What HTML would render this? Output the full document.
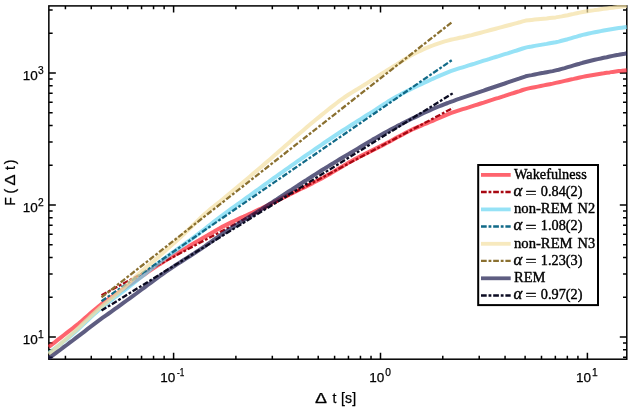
<!DOCTYPE html>
<html lang="en"><head><meta charset="utf-8"><title>F(Δt) fluctuation functions</title>
<style>html,body{margin:0;padding:0;background:#fff}svg{display:block}</style></head>
<body>
<svg width="632" height="410" viewBox="0 0 632 410">
<rect width="632" height="410" fill="#fff"/>
<defs><clipPath id="c"><rect x="48.050000000000004" y="5.1000000000000005" width="579.55" height="354.90000000000003"/></clipPath></defs>
<path d="M65.42,359.2 v-3.4 M65.42,5.9 v3.4 M91.27,359.2 v-3.4 M91.27,5.9 v3.4 M111.32,359.2 v-3.4 M111.32,5.9 v3.4 M127.70,359.2 v-3.4 M127.70,5.9 v3.4 M141.55,359.2 v-3.4 M141.55,5.9 v3.4 M153.55,359.2 v-3.4 M153.55,5.9 v3.4 M164.13,359.2 v-3.4 M164.13,5.9 v3.4 M173.60,359.2 v-6.5 M173.60,5.9 v6.5 M235.88,359.2 v-3.4 M235.88,5.9 v3.4 M272.32,359.2 v-3.4 M272.32,5.9 v3.4 M298.17,359.2 v-3.4 M298.17,5.9 v3.4 M318.22,359.2 v-3.4 M318.22,5.9 v3.4 M334.60,359.2 v-3.4 M334.60,5.9 v3.4 M348.45,359.2 v-3.4 M348.45,5.9 v3.4 M360.45,359.2 v-3.4 M360.45,5.9 v3.4 M371.03,359.2 v-3.4 M371.03,5.9 v3.4 M380.50,359.2 v-6.5 M380.50,5.9 v6.5 M442.78,359.2 v-3.4 M442.78,5.9 v3.4 M479.22,359.2 v-3.4 M479.22,5.9 v3.4 M505.07,359.2 v-3.4 M505.07,5.9 v3.4 M525.12,359.2 v-3.4 M525.12,5.9 v3.4 M541.50,359.2 v-3.4 M541.50,5.9 v3.4 M555.35,359.2 v-3.4 M555.35,5.9 v3.4 M567.35,359.2 v-3.4 M567.35,5.9 v3.4 M577.93,359.2 v-3.4 M577.93,5.9 v3.4 M587.40,359.2 v-6.5 M587.40,5.9 v6.5 M48.85,357.35 h3.8 M626.8,357.35 h-3.8 M48.85,349.69 h3.8 M626.8,349.69 h-3.8 M48.85,342.94 h3.8 M626.8,342.94 h-3.8 M48.85,336.90 h7.0 M626.8,336.90 h-7.0 M48.85,297.16 h3.8 M626.8,297.16 h-3.8 M48.85,273.92 h3.8 M626.8,273.92 h-3.8 M48.85,257.43 h3.8 M626.8,257.43 h-3.8 M48.85,244.64 h3.8 M626.8,244.64 h-3.8 M48.85,234.18 h3.8 M626.8,234.18 h-3.8 M48.85,225.35 h3.8 M626.8,225.35 h-3.8 M48.85,217.69 h3.8 M626.8,217.69 h-3.8 M48.85,210.94 h3.8 M626.8,210.94 h-3.8 M48.85,204.90 h7.0 M626.8,204.90 h-7.0 M48.85,165.16 h3.8 M626.8,165.16 h-3.8 M48.85,141.92 h3.8 M626.8,141.92 h-3.8 M48.85,125.43 h3.8 M626.8,125.43 h-3.8 M48.85,112.64 h3.8 M626.8,112.64 h-3.8 M48.85,102.18 h3.8 M626.8,102.18 h-3.8 M48.85,93.35 h3.8 M626.8,93.35 h-3.8 M48.85,85.69 h3.8 M626.8,85.69 h-3.8 M48.85,78.94 h3.8 M626.8,78.94 h-3.8 M48.85,72.90 h7.0 M626.8,72.90 h-7.0 M48.85,33.16 h3.8 M626.8,33.16 h-3.8 M48.85,9.92 h3.8 M626.8,9.92 h-3.8" stroke="#000" stroke-width="1.5" fill="none"/>
<rect x="48.85" y="5.9" width="577.9499999999999" height="353.3" fill="none" stroke="#000" stroke-width="1.5"/>
<g clip-path="url(#c)" fill="none">
<path d="M48.7,347.0 L51.7,344.6 L54.7,342.3 L57.7,339.9 L60.7,337.6 L63.7,335.2 L66.7,332.9 L69.7,330.6 L72.7,328.3 L75.7,325.9 L78.7,323.5 L81.7,320.9 L84.7,318.3 L87.7,315.7 L90.7,313.1 L93.7,310.5 L96.7,308.0 L99.7,305.5 L102.7,303.2 L105.7,301.0 L108.7,298.9 L111.7,296.8 L114.7,294.8 L117.7,292.8 L120.7,290.8 L123.7,288.8 L126.7,286.7 L129.7,284.7 L132.7,282.6 L135.7,280.6 L138.7,278.5 L141.7,276.4 L144.7,274.3 L147.7,272.2 L150.7,270.2 L153.7,268.2 L156.7,266.2 L159.7,264.2 L162.7,262.3 L165.7,260.4 L168.7,258.5 L171.7,256.7 L174.7,254.9 L177.7,253.1 L180.7,251.3 L183.7,249.5 L186.7,247.6 L189.7,245.8 L192.7,244.0 L195.7,242.2 L198.7,240.5 L201.7,238.7 L204.7,236.9 L207.7,235.2 L210.7,233.4 L213.7,231.7 L216.7,229.9 L219.7,228.3 L222.7,226.6 L225.7,225.1 L228.7,223.6 L231.7,222.1 L234.7,220.7 L237.7,219.3 L240.7,217.9 L243.7,216.6 L246.7,215.2 L249.7,213.8 L252.7,212.5 L255.7,211.0 L258.7,209.6 L261.7,208.2 L264.7,206.7 L267.7,205.3 L270.7,203.8 L273.7,202.3 L276.7,200.9 L279.7,199.4 L282.7,197.9 L285.7,196.4 L288.7,194.9 L291.7,193.5 L294.7,192.0 L297.7,190.5 L300.7,189.0 L303.7,187.6 L306.7,186.1 L309.7,184.6 L312.7,183.1 L315.7,181.5 L318.7,180.0 L321.7,178.4 L324.7,176.8 L327.7,175.1 L330.7,173.4 L333.7,171.6 L336.7,169.8 L339.7,168.0 L342.7,166.2 L345.7,164.4 L348.7,162.6 L351.7,160.9 L354.7,159.3 L357.7,157.7 L360.7,156.1 L363.7,154.6 L366.7,153.1 L369.7,151.6 L372.7,150.1 L375.7,148.6 L378.7,147.1 L381.7,145.6 L384.7,144.1 L387.7,142.5 L390.7,140.9 L393.7,139.3 L396.7,137.6 L399.7,136.0 L402.7,134.4 L405.7,132.8 L408.7,131.3 L411.7,129.8 L414.7,128.4 L417.7,127.1 L420.7,125.8 L423.7,124.5 L426.7,123.3 L429.7,122.0 L432.7,120.8 L435.7,119.5 L438.7,118.2 L441.7,116.9 L444.7,115.6 L447.7,114.4 L450.7,113.2 L453.7,112.2 L456.7,111.2 L459.7,110.2 L462.7,109.2 L465.7,108.3 L468.7,107.4 L471.7,106.4 L474.7,105.4 L477.7,104.5 L480.7,103.5 L483.7,102.6 L486.7,101.6 L489.7,100.6 L492.7,99.7 L495.7,98.7 L498.7,97.8 L501.7,96.8 L504.7,95.9 L507.7,94.9 L510.7,93.9 L513.7,93.0 L516.7,92.0 L519.7,91.1 L522.7,90.0 L525.7,89.1 L528.7,88.4 L531.7,87.8 L534.7,87.2 L537.7,86.6 L540.7,86.0 L543.7,85.4 L546.7,84.8 L549.7,84.2 L552.7,83.6 L555.7,82.9 L558.7,82.3 L561.7,81.6 L564.7,80.9 L567.7,80.2 L570.7,79.5 L573.7,78.9 L576.7,78.2 L579.7,77.5 L582.7,76.9 L585.7,76.3 L588.7,75.7 L591.7,75.2 L594.7,74.7 L597.7,74.2 L600.7,73.7 L603.7,73.3 L606.7,72.8 L609.7,72.4 L612.7,71.9 L615.7,71.5 L618.7,71.1 L621.7,70.8 L624.7,70.4 L626.8,70.2" stroke="#fe2230" stroke-opacity="0.7" stroke-width="4.0" stroke-linejoin="round"/>
<path d="M101.5,295.2 L452.8,108.0" stroke="#a80812" stroke-width="2.3" stroke-dasharray="5.7 1.85 2.8 1.85"/>
<path d="M48.7,353.0 L51.7,350.8 L54.7,348.5 L57.7,346.3 L60.7,343.9 L63.7,341.5 L66.7,339.1 L69.7,336.6 L72.7,334.1 L75.7,331.4 L78.7,328.7 L81.7,325.9 L84.7,323.0 L87.7,320.2 L90.7,317.4 L93.7,314.6 L96.7,311.9 L99.7,309.3 L102.7,306.8 L105.7,304.4 L108.7,302.1 L111.7,299.8 L114.7,297.5 L117.7,295.3 L120.7,293.1 L123.7,290.8 L126.7,288.6 L129.7,286.2 L132.7,283.9 L135.7,281.5 L138.7,279.0 L141.7,276.6 L144.7,274.1 L147.7,271.7 L150.7,269.2 L153.7,266.8 L156.7,264.5 L159.7,262.1 L162.7,259.9 L165.7,257.6 L168.7,255.4 L171.7,253.2 L174.7,251.1 L177.7,248.9 L180.7,246.8 L183.7,244.6 L186.7,242.5 L189.7,240.3 L192.7,238.1 L195.7,235.9 L198.7,233.6 L201.7,231.3 L204.7,229.0 L207.7,226.6 L210.7,224.3 L213.7,221.9 L216.7,219.6 L219.7,217.3 L222.7,215.0 L225.7,212.8 L228.7,210.6 L231.7,208.4 L234.7,206.3 L237.7,204.2 L240.7,202.0 L243.7,199.9 L246.7,197.7 L249.7,195.6 L252.7,193.4 L255.7,191.2 L258.7,189.1 L261.7,186.9 L264.7,184.7 L267.7,182.5 L270.7,180.4 L273.7,178.2 L276.7,176.1 L279.7,173.9 L282.7,171.8 L285.7,169.7 L288.7,167.6 L291.7,165.4 L294.7,163.3 L297.7,161.2 L300.7,159.1 L303.7,157.0 L306.7,154.9 L309.7,152.9 L312.7,150.8 L315.7,148.7 L318.7,146.6 L321.7,144.6 L324.7,142.5 L327.7,140.5 L330.7,138.5 L333.7,136.5 L336.7,134.5 L339.7,132.5 L342.7,130.5 L345.7,128.6 L348.7,126.7 L351.7,124.8 L354.7,122.9 L357.7,121.0 L360.7,119.1 L363.7,117.2 L366.7,115.3 L369.7,113.5 L372.7,111.6 L375.7,109.7 L378.7,107.7 L381.7,105.7 L384.7,103.8 L387.7,101.8 L390.7,100.0 L393.7,98.2 L396.7,96.5 L399.7,94.9 L402.7,93.3 L405.7,91.7 L408.7,90.2 L411.7,88.7 L414.7,87.3 L417.7,85.8 L420.7,84.4 L423.7,82.9 L426.7,81.6 L429.7,80.2 L432.7,78.8 L435.7,77.5 L438.7,76.1 L441.7,74.8 L444.7,73.6 L447.7,72.4 L450.7,71.2 L453.7,70.2 L456.7,69.2 L459.7,68.2 L462.7,67.3 L465.7,66.4 L468.7,65.4 L471.7,64.5 L474.7,63.6 L477.7,62.6 L480.7,61.7 L483.7,60.7 L486.7,59.8 L489.7,58.9 L492.7,57.9 L495.7,57.0 L498.7,56.1 L501.7,55.1 L504.7,54.2 L507.7,53.3 L510.7,52.3 L513.7,51.4 L516.7,50.5 L519.7,49.5 L522.7,48.5 L525.7,47.6 L528.7,46.9 L531.7,46.5 L534.7,45.9 L537.7,45.4 L540.7,44.9 L543.7,44.4 L546.7,43.9 L549.7,43.3 L552.7,42.8 L555.7,42.3 L558.7,41.6 L561.7,40.8 L564.7,40.0 L567.7,39.2 L570.7,38.3 L573.7,37.4 L576.7,36.6 L579.7,35.7 L582.7,34.9 L585.7,34.2 L588.7,33.5 L591.7,32.9 L594.7,32.3 L597.7,31.7 L600.7,31.1 L603.7,30.5 L606.7,30.0 L609.7,29.5 L612.7,29.0 L615.7,28.5 L618.7,28.1 L621.7,27.7 L624.7,27.3 L626.8,27.0" stroke="#69d6f2" stroke-opacity="0.7" stroke-width="4.0" stroke-linejoin="round"/>
<path d="M101.5,301.2 L452.8,59.5" stroke="#116a88" stroke-width="2.3" stroke-dasharray="5.7 1.85 2.8 1.85"/>
<path d="M48.7,354.0 L51.7,351.5 L54.7,348.9 L57.7,346.3 L60.7,343.7 L63.7,341.1 L66.7,338.5 L69.7,335.8 L72.7,333.1 L75.7,330.4 L78.7,327.6 L81.7,324.7 L84.7,321.9 L87.7,319.1 L90.7,316.3 L93.7,313.5 L96.7,310.8 L99.7,308.1 L102.7,305.5 L105.7,303.0 L108.7,300.5 L111.7,298.1 L114.7,295.7 L117.7,293.2 L120.7,290.6 L123.7,287.9 L126.7,285.1 L129.7,282.3 L132.7,279.5 L135.7,276.7 L138.7,274.0 L141.7,271.3 L144.7,268.7 L147.7,266.1 L150.7,263.5 L153.7,261.0 L156.7,258.4 L159.7,255.8 L162.7,253.1 L165.7,250.5 L168.7,247.8 L171.7,245.1 L174.7,242.4 L177.7,239.7 L180.7,237.0 L183.7,234.2 L186.7,231.4 L189.7,228.5 L192.7,225.5 L195.7,222.6 L198.7,219.6 L201.7,216.8 L204.7,214.0 L207.7,211.4 L210.7,208.9 L213.7,206.5 L216.7,204.1 L219.7,201.7 L222.7,199.3 L225.7,196.8 L228.7,194.3 L231.7,191.8 L234.7,189.3 L237.7,186.8 L240.7,184.3 L243.7,181.7 L246.7,179.2 L249.7,176.7 L252.7,174.1 L255.7,171.6 L258.7,169.0 L261.7,166.4 L264.7,163.9 L267.7,161.3 L270.7,158.7 L273.7,156.1 L276.7,153.4 L279.7,150.8 L282.7,148.2 L285.7,145.5 L288.7,142.9 L291.7,140.3 L294.7,137.6 L297.7,135.0 L300.7,132.5 L303.7,129.9 L306.7,127.3 L309.7,124.8 L312.7,122.3 L315.7,119.8 L318.7,117.4 L321.7,114.9 L324.7,112.5 L327.7,110.0 L330.7,107.6 L333.7,105.3 L336.7,103.0 L339.7,100.7 L342.7,98.6 L345.7,96.5 L348.7,94.5 L351.7,92.6 L354.7,90.8 L357.7,89.0 L360.7,87.1 L363.7,85.3 L366.7,83.4 L369.7,81.5 L372.7,79.5 L375.7,77.6 L378.7,75.7 L381.7,73.8 L384.7,71.9 L387.7,70.0 L390.7,68.1 L393.7,66.2 L396.7,64.4 L399.7,62.4 L402.7,60.5 L405.7,58.7 L408.7,56.9 L411.7,55.1 L414.7,53.5 L417.7,52.0 L420.7,50.6 L423.7,49.2 L426.7,47.9 L429.7,46.7 L432.7,45.5 L435.7,44.3 L438.7,43.3 L441.7,42.3 L444.7,41.4 L447.7,40.6 L450.7,39.8 L453.7,39.1 L456.7,38.5 L459.7,37.8 L462.7,37.2 L465.7,36.5 L468.7,35.8 L471.7,35.1 L474.7,34.3 L477.7,33.5 L480.7,32.7 L483.7,31.9 L486.7,31.1 L489.7,30.3 L492.7,29.5 L495.7,28.7 L498.7,27.9 L501.7,27.1 L504.7,26.3 L507.7,25.5 L510.7,24.7 L513.7,23.9 L516.7,23.1 L519.7,22.3 L522.7,21.4 L525.7,20.6 L528.7,20.2 L531.7,19.9 L534.7,19.6 L537.7,19.3 L540.7,19.0 L543.7,18.7 L546.7,18.4 L549.7,18.0 L552.7,17.7 L555.7,17.4 L558.7,16.9 L561.7,16.4 L564.7,15.8 L567.7,15.2 L570.7,14.5 L573.7,13.9 L576.7,13.2 L579.7,12.6 L582.7,12.0 L585.7,11.5 L588.7,11.0 L591.7,10.6 L594.7,10.1 L597.7,9.7 L600.7,9.2 L603.7,8.8 L606.7,8.4 L609.7,8.0 L612.7,7.7 L615.7,7.3 L618.7,6.9 L621.7,6.6 L624.7,6.3 L626.8,6.1" stroke="#f4e0a2" stroke-opacity="0.7" stroke-width="4.0" stroke-linejoin="round"/>
<path d="M101.5,297.4 L452.8,21.5" stroke="#8a7030" stroke-width="2.3" stroke-dasharray="5.7 1.85 2.8 1.85"/>
<path d="M48.7,358.3 L51.7,356.1 L54.7,353.9 L57.7,351.7 L60.7,349.5 L63.7,347.2 L66.7,345.0 L69.7,342.7 L72.7,340.5 L75.7,338.2 L78.7,335.9 L81.7,333.6 L84.7,331.3 L87.7,328.9 L90.7,326.6 L93.7,324.3 L96.7,322.1 L99.7,319.9 L102.7,317.7 L105.7,315.6 L108.7,313.5 L111.7,311.4 L114.7,309.2 L117.7,307.1 L120.7,304.9 L123.7,302.7 L126.7,300.5 L129.7,298.4 L132.7,296.2 L135.7,294.0 L138.7,291.7 L141.7,289.5 L144.7,287.3 L147.7,285.0 L150.7,282.8 L153.7,280.6 L156.7,278.4 L159.7,276.2 L162.7,274.1 L165.7,271.9 L168.7,269.9 L171.7,267.8 L174.7,265.8 L177.7,263.9 L180.7,262.0 L183.7,260.0 L186.7,258.1 L189.7,256.2 L192.7,254.3 L195.7,252.3 L198.7,250.4 L201.7,248.3 L204.7,246.3 L207.7,244.2 L210.7,242.1 L213.7,239.9 L216.7,237.8 L219.7,235.7 L222.7,233.7 L225.7,231.7 L228.7,229.8 L231.7,227.8 L234.7,226.0 L237.7,224.1 L240.7,222.2 L243.7,220.4 L246.7,218.5 L249.7,216.7 L252.7,214.8 L255.7,212.9 L258.7,211.0 L261.7,209.1 L264.7,207.1 L267.7,205.2 L270.7,203.3 L273.7,201.3 L276.7,199.4 L279.7,197.4 L282.7,195.4 L285.7,193.5 L288.7,191.5 L291.7,189.6 L294.7,187.6 L297.7,185.7 L300.7,183.7 L303.7,181.8 L306.7,179.9 L309.7,177.9 L312.7,176.0 L315.7,174.1 L318.7,172.2 L321.7,170.3 L324.7,168.5 L327.7,166.6 L330.7,164.8 L333.7,163.0 L336.7,161.1 L339.7,159.3 L342.7,157.5 L345.7,155.7 L348.7,154.0 L351.7,152.2 L354.7,150.4 L357.7,148.6 L360.7,146.8 L363.7,145.0 L366.7,143.2 L369.7,141.4 L372.7,139.6 L375.7,137.9 L378.7,136.2 L381.7,134.5 L384.7,132.8 L387.7,131.2 L390.7,129.6 L393.7,128.0 L396.7,126.4 L399.7,124.9 L402.7,123.3 L405.7,121.8 L408.7,120.3 L411.7,118.8 L414.7,117.4 L417.7,115.9 L420.7,114.4 L423.7,113.0 L426.7,111.6 L429.7,110.3 L432.7,109.0 L435.7,107.7 L438.7,106.5 L441.7,105.3 L444.7,104.1 L447.7,103.0 L450.7,101.8 L453.7,100.8 L456.7,99.7 L459.7,98.7 L462.7,97.6 L465.7,96.6 L468.7,95.6 L471.7,94.6 L474.7,93.6 L477.7,92.6 L480.7,91.6 L483.7,90.6 L486.7,89.5 L489.7,88.5 L492.7,87.5 L495.7,86.5 L498.7,85.5 L501.7,84.5 L504.7,83.5 L507.7,82.4 L510.7,81.4 L513.7,80.4 L516.7,79.4 L519.7,78.4 L522.7,77.3 L525.7,76.3 L528.7,75.6 L531.7,75.1 L534.7,74.5 L537.7,73.9 L540.7,73.3 L543.7,72.8 L546.7,72.2 L549.7,71.6 L552.7,71.1 L555.7,70.4 L558.7,69.7 L561.7,68.9 L564.7,68.1 L567.7,67.2 L570.7,66.3 L573.7,65.4 L576.7,64.5 L579.7,63.7 L582.7,62.8 L585.7,62.0 L588.7,61.2 L591.7,60.5 L594.7,59.8 L597.7,59.1 L600.7,58.5 L603.7,57.8 L606.7,57.2 L609.7,56.5 L612.7,55.9 L615.7,55.3 L618.7,54.8 L621.7,54.2 L624.7,53.7 L626.8,53.3" stroke="#19184c" stroke-opacity="0.7" stroke-width="4.0" stroke-linejoin="round"/>
<path d="M101.5,310.6 L452.8,93.3" stroke="#0b0b22" stroke-width="2.3" stroke-dasharray="5.7 1.85 2.8 1.85"/>
</g>
<text x="160.2" y="382.0" font-family="Liberation Sans, Arial, Helvetica, sans-serif" stroke="#000" stroke-width="0.25" font-size="13.5">10</text>
<text x="176.9" y="375.7" font-family="Liberation Sans, Arial, Helvetica, sans-serif" stroke="#000" stroke-width="0.25" font-size="10.2" textLength="7.3" lengthAdjust="spacingAndGlyphs">-1</text>
<text x="369.2" y="382.0" font-family="Liberation Sans, Arial, Helvetica, sans-serif" stroke="#000" stroke-width="0.25" font-size="13.5">10</text>
<text x="385.2" y="375.7" font-family="Liberation Sans, Arial, Helvetica, sans-serif" stroke="#000" stroke-width="0.25" font-size="10.2">0</text>
<text x="575.9" y="382.0" font-family="Liberation Sans, Arial, Helvetica, sans-serif" stroke="#000" stroke-width="0.25" font-size="13.5">10</text>
<text x="591.9" y="375.7" font-family="Liberation Sans, Arial, Helvetica, sans-serif" stroke="#000" stroke-width="0.25" font-size="10.2">1</text>
<text x="22.7" y="80.2" font-family="Liberation Sans, Arial, Helvetica, sans-serif" stroke="#000" stroke-width="0.25" font-size="13.5">10</text>
<text x="37.9" y="73.6" font-family="Liberation Sans, Arial, Helvetica, sans-serif" stroke="#000" stroke-width="0.25" font-size="10.2">3</text>
<text x="22.7" y="212.2" font-family="Liberation Sans, Arial, Helvetica, sans-serif" stroke="#000" stroke-width="0.25" font-size="13.5">10</text>
<text x="37.9" y="205.6" font-family="Liberation Sans, Arial, Helvetica, sans-serif" stroke="#000" stroke-width="0.25" font-size="10.2">2</text>
<text x="22.7" y="344.2" font-family="Liberation Sans, Arial, Helvetica, sans-serif" stroke="#000" stroke-width="0.25" font-size="13.5">10</text>
<text x="37.9" y="337.6" font-family="Liberation Sans, Arial, Helvetica, sans-serif" stroke="#000" stroke-width="0.25" font-size="10.2">1</text>
<text x="315.1" y="402.6" font-family="Liberation Sans, Arial, Helvetica, sans-serif" stroke="#000" stroke-width="0.25" font-size="14.0" textLength="12.0" lengthAdjust="spacingAndGlyphs">Δ</text>
<text x="332.4" y="402.6" font-family="Liberation Sans, Arial, Helvetica, sans-serif" stroke="#000" stroke-width="0.25" font-size="14.0">t</text>
<text x="340.9" y="402.6" font-family="Liberation Sans, Arial, Helvetica, sans-serif" stroke="#000" stroke-width="0.25" font-size="14.0" textLength="15.3" lengthAdjust="spacing">[s]</text>
<g transform="translate(15.1,205) rotate(-90)" font-family="Liberation Sans, Arial, Helvetica, sans-serif" stroke="#000" stroke-width="0.25" font-size="14.0">
<text x="-0.7" y="0">F</text><text x="11.4" y="0">(</text>
<text x="19.4" y="0" textLength="11.0" lengthAdjust="spacingAndGlyphs">Δ</text>
<text x="34.9" y="0">t</text><text x="40.8" y="0">)</text></g>
<rect x="478.2" y="165.0" width="119.8" height="140.1" fill="#fff" stroke="#000" stroke-width="2"/>
<path d="M481,174.9 H510.7" stroke="#fe2230" stroke-opacity="0.7" stroke-width="3.8" fill="none"/>
<path d="M481,192.0 H510.7" stroke="#a80812" stroke-width="2.3" stroke-dasharray="5.7 1.85 2.8 1.85" fill="none"/>
<text x="514" y="179.0" font-family="Liberation Serif, Times New Roman, serif" stroke="#000" stroke-width="0.4" font-size="14.6" textLength="72.7" lengthAdjust="spacingAndGlyphs">Wakefulness</text>
<text x="513.4" y="196.2" font-family="Liberation Serif, Times New Roman, serif" stroke="#000" stroke-width="0.4" font-size="16" font-style="italic" textLength="8.8" lengthAdjust="spacingAndGlyphs">α</text>
<text x="525.6" y="197.6" font-family="Liberation Serif, Times New Roman, serif" stroke="#000" stroke-width="0.4" font-size="14.6" textLength="11" lengthAdjust="spacingAndGlyphs">=</text>
<text x="540.8" y="196.2" font-family="Liberation Serif, Times New Roman, serif" stroke="#000" stroke-width="0.4" font-size="14.6" textLength="41.6" lengthAdjust="spacingAndGlyphs">0.84(2)</text>
<path d="M481,209.4 H510.7" stroke="#69d6f2" stroke-opacity="0.7" stroke-width="3.8" fill="none"/>
<path d="M481,226.5 H510.7" stroke="#116a88" stroke-width="2.3" stroke-dasharray="5.7 1.85 2.8 1.85" fill="none"/>
<text x="514" y="213.3" font-family="Liberation Serif, Times New Roman, serif" stroke="#000" stroke-width="0.4" font-size="14.6" textLength="58.6" lengthAdjust="spacingAndGlyphs">non-REM</text>
<text x="577.6" y="213.3" font-family="Liberation Serif, Times New Roman, serif" stroke="#000" stroke-width="0.4" font-size="14.6" textLength="17.6" lengthAdjust="spacingAndGlyphs">N2</text>
<text x="513.4" y="230.4" font-family="Liberation Serif, Times New Roman, serif" stroke="#000" stroke-width="0.4" font-size="16" font-style="italic" textLength="8.8" lengthAdjust="spacingAndGlyphs">α</text>
<text x="525.6" y="231.8" font-family="Liberation Serif, Times New Roman, serif" stroke="#000" stroke-width="0.4" font-size="14.6" textLength="11" lengthAdjust="spacingAndGlyphs">=</text>
<text x="540.8" y="230.4" font-family="Liberation Serif, Times New Roman, serif" stroke="#000" stroke-width="0.4" font-size="14.6" textLength="41.6" lengthAdjust="spacingAndGlyphs">1.08(2)</text>
<path d="M481,243.8 H510.7" stroke="#f4e0a2" stroke-opacity="0.7" stroke-width="3.8" fill="none"/>
<path d="M481,260.8 H510.7" stroke="#8a7030" stroke-width="2.3" stroke-dasharray="5.7 1.85 2.8 1.85" fill="none"/>
<text x="514" y="247.5" font-family="Liberation Serif, Times New Roman, serif" stroke="#000" stroke-width="0.4" font-size="14.6" textLength="58.6" lengthAdjust="spacingAndGlyphs">non-REM</text>
<text x="577.6" y="247.5" font-family="Liberation Serif, Times New Roman, serif" stroke="#000" stroke-width="0.4" font-size="14.6" textLength="17.6" lengthAdjust="spacingAndGlyphs">N3</text>
<text x="513.4" y="264.6" font-family="Liberation Serif, Times New Roman, serif" stroke="#000" stroke-width="0.4" font-size="16" font-style="italic" textLength="8.8" lengthAdjust="spacingAndGlyphs">α</text>
<text x="525.6" y="266.0" font-family="Liberation Serif, Times New Roman, serif" stroke="#000" stroke-width="0.4" font-size="14.6" textLength="11" lengthAdjust="spacingAndGlyphs">=</text>
<text x="540.8" y="264.6" font-family="Liberation Serif, Times New Roman, serif" stroke="#000" stroke-width="0.4" font-size="14.6" textLength="41.6" lengthAdjust="spacingAndGlyphs">1.23(3)</text>
<path d="M481,278.3 H510.7" stroke="#19184c" stroke-opacity="0.7" stroke-width="3.8" fill="none"/>
<path d="M481,295.5 H510.7" stroke="#0b0b22" stroke-width="2.3" stroke-dasharray="5.7 1.85 2.8 1.85" fill="none"/>
<text x="514" y="281.9" font-family="Liberation Serif, Times New Roman, serif" stroke="#000" stroke-width="0.4" font-size="14.6" textLength="31.4" lengthAdjust="spacingAndGlyphs">REM</text>
<text x="513.4" y="298.8" font-family="Liberation Serif, Times New Roman, serif" stroke="#000" stroke-width="0.4" font-size="16" font-style="italic" textLength="8.8" lengthAdjust="spacingAndGlyphs">α</text>
<text x="525.6" y="300.2" font-family="Liberation Serif, Times New Roman, serif" stroke="#000" stroke-width="0.4" font-size="14.6" textLength="11" lengthAdjust="spacingAndGlyphs">=</text>
<text x="540.8" y="298.8" font-family="Liberation Serif, Times New Roman, serif" stroke="#000" stroke-width="0.4" font-size="14.6" textLength="41.6" lengthAdjust="spacingAndGlyphs">0.97(2)</text>
</svg>
</body></html>
